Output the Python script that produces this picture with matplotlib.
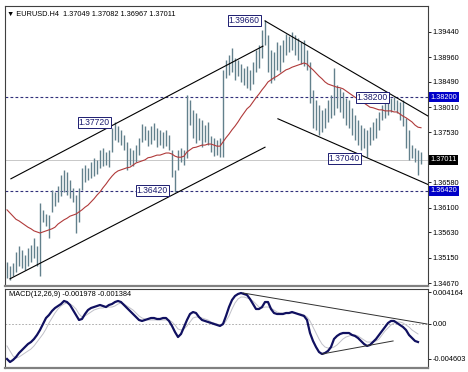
import numpy as np
import matplotlib
matplotlib.use("Agg")
import matplotlib.pyplot as plt
import matplotlib.transforms as mtransforms

plt.rcParams['font.family'] = ['Liberation Sans', 'DejaVu Sans']

# EURUSD H4 bars (high / low), one per 4h bar
high = [
    1.3507, 1.3499, 1.3505, 1.3526, 1.3537, 1.3530, 1.3520, 1.3534, 1.3539, 1.3553,
    1.3537, 1.3619, 1.3606, 1.3598, 1.3596, 1.3644, 1.3640, 1.3651, 1.3672, 1.3682,
    1.3678, 1.3663, 1.3648, 1.3634, 1.3648, 1.3686, 1.3691, 1.3686, 1.3697, 1.3705,
    1.3701, 1.3720, 1.3724, 1.3716, 1.3720, 1.3762, 1.3773, 1.3765, 1.3758, 1.3748,
    1.3735, 1.3724, 1.3720, 1.3729, 1.3743, 1.3769, 1.3765, 1.3758, 1.3765, 1.3771,
    1.3762, 1.3758, 1.3754, 1.3758, 1.3748, 1.3720, 1.3682, 1.3720, 1.3724, 1.3720,
    1.3824, 1.3815, 1.3796, 1.3790, 1.3781, 1.3777, 1.3767, 1.3773, 1.3746, 1.3743,
    1.3739, 1.3743, 1.3872, 1.3891, 1.3900, 1.3914, 1.3895, 1.3891, 1.3883, 1.3876,
    1.3879, 1.3872, 1.3887, 1.3910, 1.3919, 1.3948, 1.3967, 1.3938, 1.3910, 1.3906,
    1.3925, 1.3919, 1.3929, 1.3940, 1.3936, 1.3944, 1.3938, 1.3933, 1.3925, 1.3929,
    1.3910, 1.3887, 1.3834, 1.3815, 1.3805, 1.3796, 1.3800, 1.3815, 1.3824, 1.3876,
    1.3843, 1.3838, 1.3830, 1.3819, 1.3815, 1.3800, 1.3786, 1.3777, 1.3767, 1.3762,
    1.3758, 1.3763, 1.3773, 1.3781, 1.3792, 1.3805, 1.3809, 1.3815, 1.3819, 1.3820,
    1.3815, 1.3811, 1.3815, 1.3781, 1.3758, 1.3729, 1.3724, 1.3720, 1.3716]
low = [
    1.3477, 1.3473, 1.3480, 1.3488, 1.3499, 1.3496, 1.3492, 1.3499, 1.3507, 1.3515,
    1.3499, 1.3480, 1.3583, 1.3575, 1.3553, 1.3602, 1.3613, 1.3621, 1.3632, 1.3640,
    1.3634, 1.3629, 1.3621, 1.3562, 1.3583, 1.3644, 1.3659, 1.3663, 1.3667, 1.3670,
    1.3674, 1.3686, 1.3689, 1.3691, 1.3687, 1.3716, 1.3739, 1.3735, 1.3729, 1.3720,
    1.3682, 1.3691, 1.3689, 1.3697, 1.3710, 1.3735, 1.3739, 1.3727, 1.3731, 1.3739,
    1.3725, 1.3729, 1.3724, 1.3727, 1.3720, 1.3668, 1.3640, 1.3682, 1.3697, 1.3691,
    1.3705, 1.3767, 1.3743, 1.3733, 1.3739, 1.3725, 1.3735, 1.3729, 1.3716, 1.3708,
    1.3710, 1.3706, 1.3706, 1.3857, 1.3862, 1.3868, 1.3853, 1.3860, 1.3849, 1.3843,
    1.3838, 1.3834, 1.3845, 1.3868, 1.3876, 1.3895, 1.3919, 1.3868, 1.3847, 1.3853,
    1.3872, 1.3868, 1.3887, 1.3900, 1.3906, 1.3910, 1.3900, 1.3891, 1.3883, 1.3879,
    1.3872, 1.3809, 1.3762, 1.3758, 1.3748, 1.3754, 1.3762, 1.3773, 1.3781, 1.3786,
    1.3800, 1.3792, 1.3781, 1.3767, 1.3762, 1.3748, 1.3739, 1.3729, 1.3720, 1.3724,
    1.3706, 1.3729, 1.3739, 1.3743, 1.3758, 1.3777, 1.3781, 1.3786, 1.3792, 1.3796,
    1.3790, 1.3777, 1.3765, 1.3724, 1.3701, 1.3705, 1.3697, 1.3672, 1.3693]

# red moving average
ma = [
    1.3606, 1.3600, 1.3594, 1.3588, 1.3585, 1.3581, 1.3577, 1.3573, 1.3570, 1.3566,
    1.3564, 1.3562, 1.3564, 1.3566, 1.3568, 1.3570, 1.3573, 1.3579, 1.3583, 1.3587,
    1.3590, 1.3594, 1.3596, 1.3598, 1.3602, 1.3606, 1.3611, 1.3615, 1.3621, 1.3627,
    1.3634, 1.3640, 1.3648, 1.3655, 1.3663, 1.3670, 1.3676, 1.3680, 1.3682, 1.3684,
    1.3686, 1.3687, 1.3691, 1.3695, 1.3697, 1.3699, 1.3701, 1.3705, 1.3706, 1.3708,
    1.3710, 1.3710, 1.3712, 1.3714, 1.3714, 1.3712, 1.3708, 1.3706, 1.3706, 1.3708,
    1.3716, 1.3720, 1.3724, 1.3725, 1.3727, 1.3729, 1.3729, 1.3731, 1.3731, 1.3729,
    1.3727, 1.3727, 1.3735, 1.3743, 1.3750, 1.3758, 1.3765, 1.3773, 1.3782, 1.3790,
    1.3798, 1.3803, 1.3811, 1.3819, 1.3826, 1.3834, 1.3841, 1.3849, 1.3853, 1.3857,
    1.3860, 1.3864, 1.3868, 1.3872, 1.3874, 1.3877, 1.3879, 1.3881, 1.3883, 1.3885,
    1.3883, 1.3877, 1.3872, 1.3866, 1.3860, 1.3855, 1.3849, 1.3845, 1.3843, 1.3841,
    1.3839, 1.3838, 1.3836, 1.3832, 1.3828, 1.3824, 1.3820, 1.3817, 1.3813, 1.3809,
    1.3805, 1.3801, 1.3800, 1.3798, 1.3796, 1.3796, 1.3794, 1.3794, 1.3794, 1.3792,
    1.3792, 1.3788, 1.3784, 1.3781, 1.3777, 1.3773, 1.3767, 1.3763, 1.3762]

# MACD(12,26,9) main and signal
macd = [
    -0.00462, -0.00502, -0.00475, -0.00436, -0.00383, -0.00343, -0.00304, -0.00264, -0.00238, -0.00198,
    -0.00145, -0.00079, 0.0, 0.00079, 0.00119, 0.00172, 0.00211, 0.00238, 0.00264, 0.00304,
    0.00290, 0.00251, 0.00185, 0.00119, 0.00053, 0.00066, 0.00132, 0.00185, 0.00211, 0.00224,
    0.00238, 0.00251, 0.00238, 0.00224, 0.00251, 0.00264, 0.00290, 0.00304, 0.00290, 0.00251,
    0.00211, 0.00172, 0.00132, 0.00092, 0.00053, 0.00040, 0.00053, 0.00066, 0.00079, 0.00079,
    0.00066, 0.00066, 0.00079, 0.00079, 0.00040, -0.00026, -0.00106, -0.00172, -0.00132, -0.00040,
    0.00053, 0.00132, 0.00158, 0.00145, 0.00092, 0.00053, 0.00040, 0.00026, 0.00013, 0.0,
    -0.00013, -0.00026, 0.0, 0.00106, 0.00224, 0.00317, 0.00370, 0.00396, 0.00409, 0.00396,
    0.00383, 0.00330, 0.00264, 0.00198, 0.00198, 0.00224, 0.00290, 0.00290, 0.00198, 0.00145,
    0.00132, 0.00132, 0.00132, 0.00145, 0.00145, 0.00158, 0.00145, 0.00132, 0.00119, 0.00106,
    0.00053, -0.00119, -0.00224, -0.00304, -0.00370, -0.00396, -0.00383, -0.00356, -0.00304, -0.00198,
    -0.00158, -0.00132, -0.00119, -0.00119, -0.00119, -0.00145, -0.00158, -0.00185, -0.00224, -0.00264,
    -0.00290, -0.00277, -0.00238, -0.00198, -0.00145, -0.00092, -0.00040, 0.00013, 0.00040, 0.00040,
    0.00013, -0.00013, -0.00040, -0.00079, -0.00145, -0.00185, -0.00224, -0.00238]
signal = [
    -0.00290, -0.00356, -0.00422, -0.00449, -0.00436, -0.00409, -0.00383, -0.00356, -0.00330, -0.00290,
    -0.00238, -0.00185, -0.00132, -0.00066, 0.00013, 0.00079, 0.00145, 0.00198, 0.00238, 0.00264,
    0.00277, 0.00264, 0.00238, 0.00198, 0.00132, 0.00092, 0.00106, 0.00132, 0.00158, 0.00185,
    0.00198, 0.00211, 0.00211, 0.00224, 0.00224, 0.00224, 0.00238, 0.00264, 0.00277, 0.00264,
    0.00238, 0.00211, 0.00185, 0.00145, 0.00106, 0.00079, 0.00066, 0.00053, 0.00053, 0.00053,
    0.00053, 0.00053, 0.00053, 0.00053, 0.00053, 0.00026, -0.00013, -0.00066, -0.00079, -0.00066,
    -0.00026, 0.00026, 0.00079, 0.00092, 0.00092, 0.00079, 0.00066, 0.00053, 0.00026, 0.00013,
    0.0, -0.00013, -0.00013, 0.00040, 0.00106, 0.00198, 0.00277, 0.00330, 0.00356, 0.00356,
    0.00343, 0.00330, 0.00304, 0.00264, 0.00224, 0.00211, 0.00224, 0.00224, 0.00211, 0.00185,
    0.00158, 0.00145, 0.00145, 0.00145, 0.00145, 0.00145, 0.00145, 0.00132, 0.00132, 0.00119,
    0.00092, 0.00040, -0.00040, -0.00119, -0.00198, -0.00264, -0.00304, -0.00317, -0.00317, -0.00304,
    -0.00277, -0.00238, -0.00198, -0.00172, -0.00158, -0.00145, -0.00145, -0.00158, -0.00185, -0.00211,
    -0.00238, -0.00238, -0.00238, -0.00224, -0.00198, -0.00145, -0.00092, -0.00053, -0.00013, 0.00013,
    0.00026, 0.00026, 0.00013, -0.00013, -0.00040, -0.00079, -0.00106, -0.00132]

price_ticks = [1.39440, 1.38960, 1.38490, 1.38010, 1.37530, 1.36580,
               1.36100, 1.35630, 1.35150, 1.34670]
levels = [1.38200, 1.36420]
last_price = 1.37011

# trend lines: (bar index, price) pairs
up_upper = ([1.3, 85.3], [1.3665, 1.3917])
up_lower = ([1.0, 86.0], [1.3475, 1.3725])
down_upper = ([86.0, 140.4], [1.3965, 1.3784])
down_lower = ([90.3, 140.4], [1.3779, 1.3654])
macd_top = ([78.7, 140.0], [0.00409, 0.0])
macd_bottom = ([105.0, 128.7], [-0.00396, -0.00224])

# price labels on the chart: (bar index of right edge, price, text)
tags = [(84.2, 1.3966, '1.39660'), (34.3, 1.3772, '1.37720'),
        (53.7, 1.3642, '1.36420'), (117.7, 1.3704, '1.37040'),
        (127.0, 1.3820, '1.38200')]

FS = 5.3
FS_TAG = 6.2
navy = '#1c1c70'
bar_col = '#62808c'

fig = plt.figure(figsize=(4.68, 3.72), dpi=100)
ax = fig.add_axes([5 / 468, 1 - 286 / 372, 423 / 468, 280 / 372])
ax2 = fig.add_axes([5 / 468, 1 - 368 / 372, 423 / 468, 79 / 372])

x = np.arange(len(high))
ax.axhline(last_price, color='#c8c8c8', lw=0.7, zorder=1)
for lv in levels:
    ax.axhline(lv, color='#30307a', lw=0.8, ls=(0, (2.5, 2)), zorder=1)
ax.vlines(x, low, high, color=bar_col, lw=1.0, zorder=2)
ax.plot(np.arange(len(ma)), ma, color='#b03a3a', lw=0.8, zorder=3)
for xs, ys in [up_upper, up_lower, down_upper, down_lower]:
    ax.plot(xs, ys, color='black', lw=0.8, zorder=4)

for xi, p, t in tags:
    ax.text(xi, p, t, ha='right', va='center', fontsize=FS_TAG, color=navy, zorder=6,
            bbox=dict(boxstyle='square,pad=0.12', fc='white', ec=navy, lw=0.7))

ax.set_xlim(-0.667, 140.33)
ax.set_ylim(1.34613, 1.39933)
ax.set_xticks([])
ax.yaxis.tick_right()
ax.set_yticks(price_ticks)
ax.set_yticklabels(['%.5f' % v for v in price_ticks])
ax.tick_params(axis='y', labelsize=FS, length=2, width=0.6, pad=1.5)

trans = mtransforms.blended_transform_factory(ax.transAxes, ax.transData)
for lv in levels:
    ax.text(1.006, lv, '%.5f' % lv, transform=trans, ha='left', va='center',
            fontsize=FS, color='white', zorder=7, clip_on=False,
            bbox=dict(boxstyle='square,pad=0.2', fc='#0000c8', ec='none'))
ax.text(1.006, last_price, '%.5f' % last_price, transform=trans, ha='left',
        va='center', fontsize=FS, color='white', zorder=7, clip_on=False,
        bbox=dict(boxstyle='square,pad=0.2', fc='black', ec='none'))

for a in (ax, ax2):
    for s in a.spines.values():
        s.set_color('#404040')
        s.set_linewidth(0.8)
    a.spines['bottom'].set_color('#808080')
    a.spines['bottom'].set_linewidth(1.6)

fig.text(7 / 468, 1 - 14 / 372, '\u25bc EURUSD.H4  1.37049 1.37082 1.36967 1.37011',
         fontsize=FS, va='center', ha='left')

# MACD panel
ax2.axhline(0, color='#a0a0a0', lw=0.6, ls=(0, (2, 2)))
ax2.plot(np.arange(len(signal)), signal, color='#c0c0c8', lw=0.7)
ax2.plot(np.arange(len(macd)), macd, color='#101060', lw=1.6)
for xs, ys in [macd_top, macd_bottom]:
    ax2.plot(xs, ys, color='#303030', lw=0.7)
ax2.set_xlim(-0.667, 140.33)
ax2.set_ylim(-0.00581, 0.00462)
ax2.set_xticks([])
ax2.yaxis.tick_right()
ax2.set_yticks([0.004164, 0.0, -0.004603])
ax2.set_yticklabels(['0.004164', '0.00', '-0.004603'])
ax2.tick_params(axis='y', labelsize=FS, length=2, width=0.6, pad=1.5)
ax2.text(4 / 423, 1 - 6 / 79, 'MACD(12,26,9) -0.001978 -0.001384', transform=ax2.transAxes,
         fontsize=FS, va='center', ha='left')

fig.savefig('out.png', dpi=100)
